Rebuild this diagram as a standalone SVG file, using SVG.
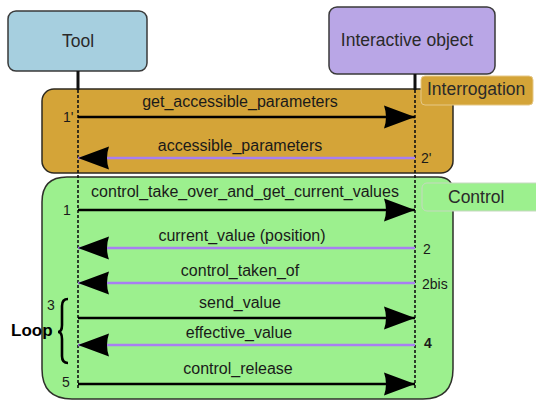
<svg xmlns="http://www.w3.org/2000/svg" width="536" height="405" viewBox="0 0 536 405">
<style>
.actor{stroke:#3a3a3a;stroke-width:1.5}
.lbl{font-family:"Liberation Sans",Arial,sans-serif;font-size:16px;fill:#1a1a1a;text-anchor:middle}
.num{font-family:"Liberation Sans",Arial,sans-serif;font-size:14px;fill:#1a1a1a}
.title{font-family:"Liberation Sans",Arial,sans-serif;font-size:17.5px;fill:#2a2a2a}
.life{stroke:#111;stroke-width:1.6;stroke-dasharray:3,2;fill:none}
.stub{stroke:#111;stroke-width:3;fill:none}
.req{stroke:#000;stroke-width:2.6;fill:none;marker-end:url(#ah)}
.rep{stroke:#a87ff2;stroke-width:2.6;fill:none;marker-end:url(#ah)}
</style>
<defs>
<marker id="ah" markerUnits="userSpaceOnUse" markerWidth="32" markerHeight="24" refX="31" refY="12" orient="auto" viewBox="0 0 32 24">
<path d="M0,0.5 L31,12 L0,23.5 Q4,12 0,0.5 Z" fill="#000"/>
</marker>
</defs>

<g id="interrogation">
<rect x="42" y="89" width="411" height="84" rx="12" fill="#d4a438" stroke="#2e2a20" stroke-width="1.5"/>
<rect x="421" y="76" width="112" height="29" rx="4" fill="#d4a438" stroke="#e6c886" stroke-width="1"/>
<text class="title" x="427" y="95" fill="#1a1a1a">Interrogation</text>
</g>

<g id="control">
<path d="M67,177 H438 Q453,177 453,192 V369 Q453,399 423,399 H72 Q42,399 42,369 V202 Q42,177 67,177 Z" fill="#9cf08e" stroke="#2e302a" stroke-width="1.5"/>
<rect x="422" y="183" width="120" height="28" rx="5" fill="#9cf08e" stroke="#c6d8c0" stroke-width="1"/>
<text class="title" x="448" y="203">Control</text>
</g>

<g id="tool">
<rect class="actor" x="8" y="11" width="139" height="60" rx="8" fill="#a6cfdf"/>
<text class="title" x="78" y="47" text-anchor="middle">Tool</text>
</g>

<g id="interactive-object">
<rect class="actor" x="329" y="7" width="166" height="67" rx="8" fill="#b9a6e6"/>
<text class="title" x="407" y="46" text-anchor="middle">Interactive object</text>
</g>

<g id="connectors">
<line class="stub" x1="78" y1="71" x2="78" y2="90"/>
<line class="stub" x1="415" y1="74" x2="415" y2="90"/>
<line class="life" x1="78" y1="90" x2="78" y2="390"/>
<line class="life" x1="415" y1="90" x2="415" y2="388"/>

<line class="req" x1="78" y1="117" x2="415" y2="117"/>
<line class="rep" x1="415" y1="158" x2="78" y2="158"/>
<line class="req" x1="78" y1="210" x2="415" y2="210"/>
<line class="rep" x1="415" y1="248" x2="78" y2="248"/>
<line class="rep" x1="415" y1="283" x2="78" y2="283"/>
<line class="req" x1="78" y1="318" x2="415" y2="318"/>
<line class="rep" x1="415" y1="345" x2="78" y2="345"/>
<line class="req" x1="78" y1="384" x2="415" y2="384"/>
<path d="M68,299 Q62,299 62,306 V325 Q62,332 58,332 Q62,332 62,339 V356 Q62,363 68,363" fill="none" stroke="#000" stroke-width="2.6"/>
</g>

<g id="labels">
<text class="lbl" x="240" y="107">get_accessible_parameters</text>
<text class="lbl" x="240" y="151">accessible_parameters</text>
<text class="lbl" x="245" y="197">control_take_over_and_get_current_values</text>
<text class="lbl" x="242" y="241">current_value (position)</text>
<text class="lbl" x="240" y="276">control_taken_of</text>
<text class="lbl" x="240" y="308">send_value</text>
<text class="lbl" x="239" y="338">effective_value</text>
<text class="lbl" x="238" y="374">control_release</text>

<text class="num" x="63" y="122">1'</text>
<text class="num" x="421" y="163">2'</text>
<text class="num" x="63" y="215">1</text>
<text class="num" x="423" y="254">2</text>
<text class="num" x="422" y="289">2bis</text>
<text class="num" x="47" y="310">3</text>
<text class="num" x="424" y="348" font-weight="bold">4</text>
<text class="num" x="62" y="387">5</text>
<text x="11" y="336" font-family="'Liberation Sans',Arial,sans-serif" font-size="17px" font-weight="bold" fill="#000">Loop</text>
</g>
</svg>
